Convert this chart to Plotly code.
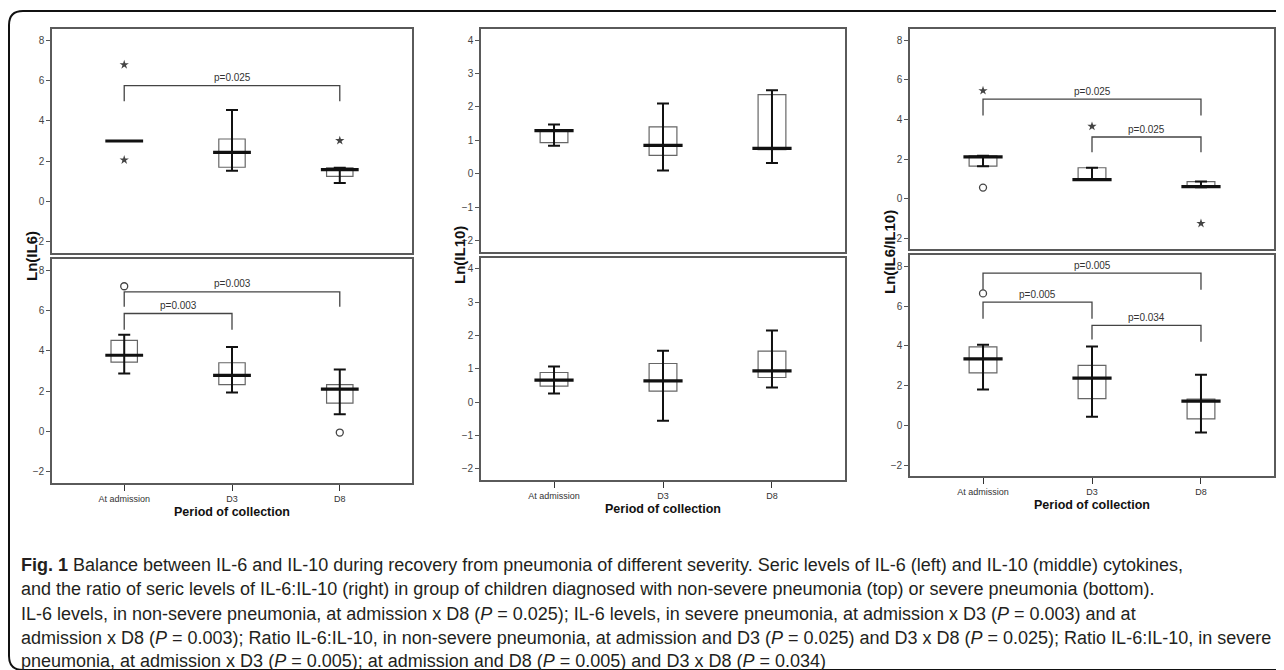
import plotly.graph_objects as go

# page is rendered with an 8px body margin; compensate
OFF = 8
W, H = 1284 - OFF, 670 - OFF

categories = ["At admission", "D3", "D8"]
cat_pos = [0, 1, 2]

# IL-6 non-severe (top left)
il6_ns_q1 = [3.0, 1.70, 1.25]
il6_ns_med = [3.0, 2.44, 1.58]
il6_ns_q3 = [3.0, 3.10, 1.67]
il6_ns_lo = [3.0, 1.53, 0.92]
il6_ns_hi = [3.0, 4.54, 1.67]
il6_ns_star_x = [0, 0, 2]
il6_ns_star_y = [6.78, 2.06, 3.02]

# IL-6 severe (bottom left)
il6_s_q1 = [3.44, 2.32, 1.41]
il6_s_med = [3.78, 2.78, 2.10]
il6_s_q3 = [4.52, 3.41, 2.32]
il6_s_lo = [2.87, 1.94, 0.86]
il6_s_hi = [4.80, 4.19, 3.07]
il6_s_circ_x = [0, 2]
il6_s_circ_y = [7.2, -0.05]

# IL-10 non-severe (top middle)
il10_ns_q1 = [0.93, 0.55, 0.72]
il10_ns_med = [1.29, 0.85, 0.76]
il10_ns_q3 = [1.31, 1.40, 2.37]
il10_ns_lo = [0.84, 0.10, 0.32]
il10_ns_hi = [1.47, 2.10, 2.50]

# IL-10 severe (bottom middle)
il10_s_q1 = [0.48, 0.33, 0.74]
il10_s_med = [0.66, 0.64, 0.94]
il10_s_q3 = [0.89, 1.16, 1.53]
il10_s_lo = [0.26, -0.56, 0.44]
il10_s_hi = [1.07, 1.54, 2.15]

# Ratio non-severe (top right)
ratio_ns_q1 = [1.65, 0.95, 0.59]
ratio_ns_med = [2.12, 0.97, 0.62]
ratio_ns_q3 = [2.17, 1.57, 0.87]
ratio_ns_lo = [1.65, 0.95, 0.59]
ratio_ns_hi = [2.17, 1.57, 0.87]
ratio_ns_star_x = [0, 1, 2]
ratio_ns_star_y = [5.46, 3.66, -1.24]
ratio_ns_circ_x = [0]
ratio_ns_circ_y = [0.57]

# Ratio severe (bottom right)
ratio_s_q1 = [2.65, 1.36, 0.34]
ratio_s_med = [3.35, 2.39, 1.23]
ratio_s_q3 = [3.96, 3.03, 1.33]
ratio_s_lo = [1.82, 0.44, -0.35]
ratio_s_hi = [4.06, 3.97, 2.56]
ratio_s_circ_x = [0]
ratio_s_circ_y = [6.64]

# significance brackets: (from, to, bar height, left drop, right drop, label)
il6_ns_brackets = [(0, 2, 5.74, 4.97, 4.97, "p=0.025")]
il6_s_brackets = [(0, 2, 6.92, 6.18, 6.18, "p=0.003"), (0, 1, 5.85, 5.05, 5.05, "p=0.003")]
il10_ns_brackets = []
il10_s_brackets = []
ratio_ns_brackets = [(0, 2, 5.03, 4.21, 4.21, "p=0.025"), (1, 2, 3.12, 2.35, 2.35, "p=0.025")]
ratio_s_brackets = [(0, 2, 7.66, 6.82, 6.82, "p=0.005"), (0, 1, 6.20, 5.37, 5.37, "p=0.005"),
                    (1, 2, 5.04, 4.32, 4.21, "p=0.034")]

caption_lines = [
    "<b>Fig. 1</b> Balance between IL-6 and IL-10 during recovery from pneumonia of different severity. Seric levels of IL-6 (left) and IL-10 (middle) cytokines,",
    "and the ratio of seric levels of IL-6:IL-10 (right) in group of children diagnosed with non-severe pneumonia (top) or severe pneumonia (bottom).",
    "IL-6 levels, in non-severe pneumonia, at admission x D8 (<i>P</i> = 0.025); IL-6 levels, in severe pneumonia, at admission x D3 (<i>P</i> = 0.003) and at",
    "admission x D8 (<i>P</i> = 0.003); Ratio IL-6:IL-10, in non-severe pneumonia, at admission and D3 (<i>P</i> = 0.025) and D3 x D8 (<i>P</i> = 0.025); Ratio IL-6:IL-10, in severe",
    "pneumonia, at admission x D3 (<i>P</i> = 0.005); at admission and D8 (<i>P</i> = 0.005) and D3 x D8 (<i>P</i> = 0.034)",
]

NARROW = "Liberation Sans Narrow, Arial Narrow, sans-serif"
SANS = "Liberation Sans, Arial, sans-serif"

def px_x(p):
    return (p - OFF) / W

def px_y(p):
    return 1 - (p - OFF) / H

# panel geometry in page pixels
panels = [
    (52, 412, 29, 253, 259, 483, [-2.55, 8.55], 2, 0.245, 27),
    (481, 845, 29, 252, 258, 480, [-2.34, 4.33], 1, 0.255, 28),
    (910, 1274, 29, 249, 255, 476, [-2.53, 8.57], 2, 0.255, 28),
]

datasets = [
    (il6_ns_q1, il6_ns_med, il6_ns_q3, il6_ns_lo, il6_ns_hi, (il6_ns_star_x, il6_ns_star_y), ([], []), il6_ns_brackets),
    (il6_s_q1, il6_s_med, il6_s_q3, il6_s_lo, il6_s_hi, ([], []), (il6_s_circ_x, il6_s_circ_y), il6_s_brackets),
    (il10_ns_q1, il10_ns_med, il10_ns_q3, il10_ns_lo, il10_ns_hi, ([], []), ([], []), il10_ns_brackets),
    (il10_s_q1, il10_s_med, il10_s_q3, il10_s_lo, il10_s_hi, ([], []), ([], []), il10_s_brackets),
    (ratio_ns_q1, ratio_ns_med, ratio_ns_q3, ratio_ns_lo, ratio_ns_hi, (ratio_ns_star_x, ratio_ns_star_y),
     (ratio_ns_circ_x, ratio_ns_circ_y), ratio_ns_brackets),
    (ratio_s_q1, ratio_s_med, ratio_s_q3, ratio_s_lo, ratio_s_hi, ([], []), (ratio_s_circ_x, ratio_s_circ_y), ratio_s_brackets),
]

ytitles = ["Ln(IL6)", "Ln(IL10)", "Ln(IL6/IL10)"]

fig = go.Figure()
layout = {}
annotations = []

for p_i, (x0, x1, yt0, yt1, yb0, yb1, yr, dt, bw, msz) in enumerate(panels):
    for row in range(2):
        idx = p_i * 2 + row + 1
        sfx = "" if idx == 1 else str(idx)
        xa, ya = "x" + sfx, "y" + sfx
        q1, med, q3, lo, hi, stars, circs, brackets = datasets[idx - 1]
        ytop, ybot = (yt0, yt1) if row == 0 else (yb0, yb1)
        layout["xaxis" + sfx] = dict(
            domain=[px_x(x0), px_x(x1)], range=[-0.67, 2.67], anchor=ya,
            tickvals=cat_pos, ticktext=categories if row == 1 else ["", "", ""],
            ticks="outside" if row == 1 else "", ticklen=6, tickcolor="#333", tickwidth=1.3,
            showgrid=False, zeroline=False, showline=True, mirror=True,
            linecolor="#5a5a5a", linewidth=1.6,
            tickfont=dict(family=NARROW, size=9, color="#333"),
        )
        layout["yaxis" + sfx] = dict(
            domain=[px_y(ybot), px_y(ytop)], range=yr, anchor=xa, dtick=dt,
            ticks="outside", ticklen=4, tickcolor="#555", tickwidth=1.3,
            showgrid=False, zeroline=False, showline=True, mirror=True,
            linecolor="#5a5a5a", linewidth=1.6,
            tickfont=dict(family=NARROW, size=10, color="#444"),
        )
        fig.add_trace(go.Box(
            x=cat_pos, q1=q1, median=med, q3=q3, lowerfence=q1, upperfence=q3,
            width=bw, whiskerwidth=0, fillcolor="white",
            line=dict(color="#666", width=1.2), boxpoints=False,
            xaxis=xa, yaxis=ya, showlegend=False, hoverinfo="skip",
        ))
        fig.add_trace(go.Scatter(
            x=cat_pos, y=med, mode="markers",
            marker=dict(symbol="line-ew", size=msz, line=dict(color="#111", width=3.2)),
            error_y=dict(type="data", symmetric=False,
                         array=[h - m for h, m in zip(hi, med)],
                         arrayminus=[m - l for m, l in zip(med, lo)],
                         color="#111", thickness=2, width=6),
            xaxis=xa, yaxis=ya, showlegend=False, hoverinfo="skip",
        ))
        if stars[0]:
            fig.add_trace(go.Scatter(
                x=stars[0], y=stars[1], mode="markers",
                marker=dict(symbol="star", size=7, color="#444"),
                xaxis=xa, yaxis=ya, showlegend=False, hoverinfo="skip"))
        if circs[0]:
            fig.add_trace(go.Scatter(
                x=circs[0], y=circs[1], mode="markers",
                marker=dict(symbol="circle-open", size=7, color="#444", line=dict(width=1.3)),
                xaxis=xa, yaxis=ya, showlegend=False, hoverinfo="skip"))
        for (a, b, h, la, rb, lab) in brackets:
            fig.add_trace(go.Scatter(
                x=[a, a, b, b], y=[la, h, h, rb], mode="lines",
                line=dict(color="#444", width=1.3),
                xaxis=xa, yaxis=ya, showlegend=False, hoverinfo="skip"))
            annotations.append(dict(
                x=(a + b) / 2, y=h, xref=xa, yref=ya, text=lab, showarrow=False,
                xanchor="center", yanchor="middle",
                yshift=8, font=dict(family=NARROW, size=10, color="#333")))
    annotations.append(dict(
        x=px_x(x0 - 21), y=px_y((yt1 + yb0) / 2), xref="paper", yref="paper",
        xanchor="center", yanchor="middle",
        text="<b>" + ytitles[p_i] + "</b>", textangle=-90, showarrow=False,
        font=dict(family=SANS, size=15, color="#111")))
    annotations.append(dict(
        x=px_x((x0 + x1) / 2), y=px_y(yb1 + 29), xref="paper", yref="paper",
        xanchor="center", yanchor="middle",
        text="<b>Period of collection</b>", showarrow=False,
        font=dict(family=NARROW, size=12.5, color="#111")))

caption_y = [565, 589, 614, 638, 661]
for line, cy in zip(caption_lines, caption_y):
    annotations.append(dict(
        x=px_x(19), y=px_y(cy), xref="paper", yref="paper", xanchor="left", yanchor="middle",
        text=line, showarrow=False, align="left",
        font=dict(family=SANS, size=18, color="#231f20")))

# outer rounded frame
r = 14
fx0, fy0, fx1, fy1 = 9, 11, 1300, 670
frame_path = (
    f"M {px_x(fx1)},{px_y(fy0)} L {px_x(fx0 + r)},{px_y(fy0)} "
    f"Q {px_x(fx0)},{px_y(fy0)} {px_x(fx0)},{px_y(fy0 + r)} "
    f"L {px_x(fx0)},{px_y(fy1 - r)} "
    f"Q {px_x(fx0)},{px_y(fy1)} {px_x(fx0 + r)},{px_y(fy1)} "
    f"L {px_x(fx1)},{px_y(fy1)}"
)

fig.update_layout(
    width=W, height=H, margin=dict(l=0, r=0, t=0, b=0),
    paper_bgcolor="white", plot_bgcolor="white",
    boxmode="overlay", showlegend=False,
    annotations=annotations,
    shapes=[dict(type="path", path=frame_path, xref="paper", yref="paper",
                 line=dict(color="#111", width=2))],
    **layout,
)

fig.write_html("out.html")
